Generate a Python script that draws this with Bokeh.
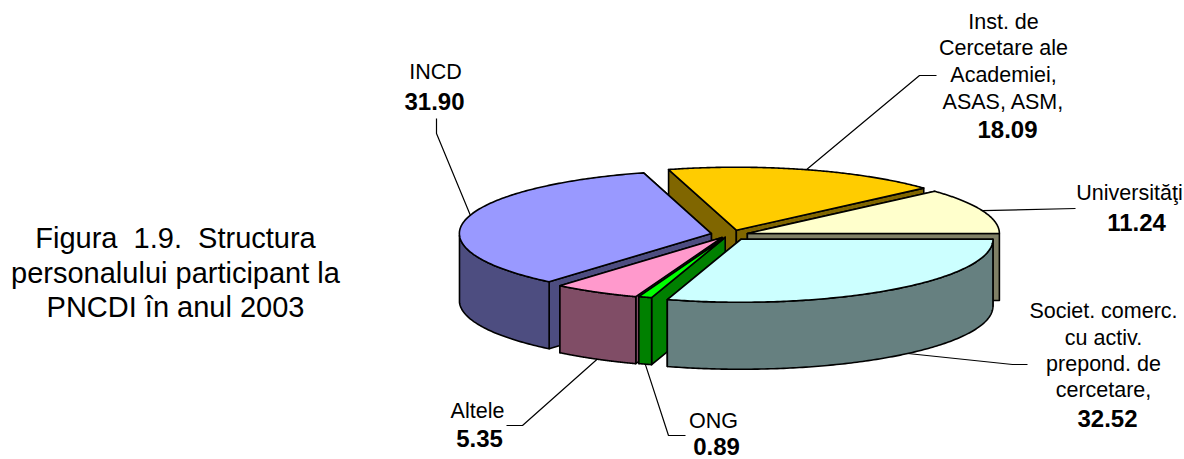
import numpy as np
from bokeh.core.properties import value
from bokeh.embed import file_html
from bokeh.models import Range1d
from bokeh.plotting import figure
from bokeh.resources import INLINE

# Shares of participating staff, clockwise around the pie
categories = ["Academiei", "Universități", "Societăți", "ONG", "Altele", "INCD"]
shares = [18.09, 11.24, 32.52, 0.89, 5.35, 31.90]

top_colors = ["#ffcc00", "#ffffcc", "#ccffff", "#00ff00", "#ff99cc", "#9999ff"]
wall_colors = ["#806600", "#808066", "#668080", "#008000", "#804d66", "#4d4d80"]

# Exploded distance of each slice along its bisector
explode = [20, 18, 20, 11, 13, 20]
# Back slices first so that nearer ones overlap them
paint_order = [0, 1, 5, 4, 3, 2]
leader_shift = [0, 0, 10, 0, 0, 0]

CX, CY = 730, 234.5
RX, RY = 252, 63
DEPTH = 67
EDGE = 1.6
FONT = value("Liberation Sans")

label_lines = [
    (["Inst. de", "Cercetare ale", "Academiei,", "ASAS, ASM,"], 1003, [21, 47.5, 74.5, 101]),
    (["Universităţi"], 1129, [192]),
    (["Societ. comerc.", "cu activ.", "prepond. de", "cercetare,"], 1103, [310, 337, 363.5, 389.5]),
    (["ONG"], 713, [420]),
    (["Altele"], 477, [410]),
    (["INCD"], 435, [71]),
]
value_x = [1007, 1136, 1107, 716, 479, 434]
value_y = [129, 222, 418, 446, 438, 101]
# Elbow and end of each callout line, from the pie outward
leader_tail = [
    [(919, 75), (936, 75)],
    [(1075, 208)],
    [(1012, 364), (1027, 364)],
    [(668, 435), (685, 435)],
    [(522, 425), (506, 425)],
    [(436, 133), (436, 118)],
]
caption = ["Figura\u00a0 1.9.\u00a0 Structura", "personalului participant la", "PNCDI în anul 2003"]
caption_y = [237, 272, 306]


def near_spread(deg):
    """Perspective shifts the rim slightly away from the plain ellipse."""
    d = np.asarray(deg, dtype=float) % 360
    theta = np.clip(d - 180, 0, 90)
    back = np.clip(d, 0, 90)
    return (d + (6.5 + 0.075 * theta) * np.sqrt(np.sin(np.radians(2 * theta)))
            + 1.5 * np.sin(np.radians(2 * back)))


def rim(apex, deg):
    a = np.radians(near_spread(deg))
    return apex[0] + RX * np.cos(a), apex[1] - RY * np.sin(a)


p = figure(
    width=1184, height=459, x_range=Range1d(0, 1184), y_range=Range1d(459, 0),
    output_backend="svg", toolbar_location=None, min_border=0,
    background_fill_color="white", outline_line_color=None,
)
p.axis.visible = False
p.grid.visible = False

fractions = np.array(shares) / sum(shares) * 360
start = fractions[0] + fractions[1]
ends_hi = start - np.concatenate([[0], np.cumsum(fractions)[:-1]])
ends_lo = ends_hi - fractions

apexes = []
for hi, lo, e in zip(ends_hi, ends_lo, explode):
    mid = np.radians((hi + lo) / 2)
    apexes.append((CX + e * np.cos(mid), CY - e * RY / RX * np.sin(mid)))


def patch(xs, ys, color):
    p.patch(list(xs), list(ys), fill_color=color, line_color="black", line_width=EDGE, line_join="round")


for i in paint_order:
    apex = apexes[i]
    hi, lo = ends_hi[i], ends_lo[i]
    # Cut faces, the rear one first
    faces = sorted([hi, lo], key=lambda d: float(rim(apex, d)[1]))
    for d in faces:
        rx, ry = rim(apex, d)
        patch([apex[0], rx, rx, apex[0]],
              [apex[1], ry, ry + DEPTH, apex[1] + DEPTH], wall_colors[i])
    # Curved outer wall: only the part of the arc below the horizontal shows
    arc = np.linspace(hi, lo, 160)
    front = arc[np.sin(np.radians(near_spread(arc))) <= 0]
    if len(front) > 1:
        fx, fy = rim(apex, front)
        patch(np.concatenate([fx, fx[::-1]]), np.concatenate([fy, fy[::-1] + DEPTH]), wall_colors[i])
    ax, ay = rim(apex, arc)
    patch(np.concatenate([[apex[0]], ax]), np.concatenate([[apex[1]], ay]), top_colors[i])

# Callout lines start on the rim at each slice's bisector
for i in range(len(shares)):
    mid = (ends_hi[i] + ends_lo[i]) / 2 + leader_shift[i]
    sx, sy = rim(apexes[i], mid)
    if np.sin(np.radians(near_spread(mid))) < 0:
        sy += DEPTH
    xs = [float(sx)] + [pt[0] for pt in leader_tail[i]]
    ys = [float(sy)] + [pt[1] for pt in leader_tail[i]]
    p.line(xs, ys, line_color="black", line_width=1.2)

# Slice names and values
for lines, cx, ys in label_lines:
    p.text([cx] * len(lines), ys, text=lines, text_font=FONT, text_font_size=value("21.5px"),
           text_align="center", text_baseline="middle", text_color="black")
p.text(value_x, value_y, text=[f"{s:.2f}" for s in shares], text_font=FONT,
       text_font_size=value("24px"), text_font_style="bold",
       text_align="center", text_baseline="middle", text_color="black")

p.text([175] * 3, caption_y, text=caption, text_font=FONT, text_font_size=value("29px"),
       text_align="center", text_baseline="middle", text_color="black")

open("out.html", "w").write(file_html(p, INLINE))
